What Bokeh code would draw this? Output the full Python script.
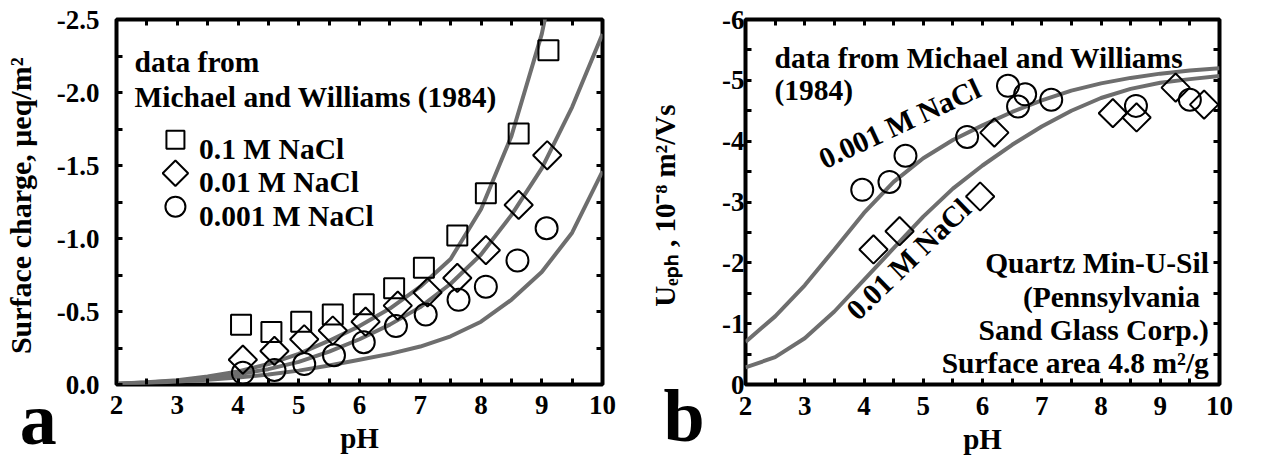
import math
from bokeh.plotting import figure
from bokeh.models import (Range1d, FixedTicker, Label, LinearAxis, PrintfTickFormatter)
from bokeh.layouts import row
from bokeh.embed import file_html
from bokeh.resources import INLINE

FONT = "Liberation Serif"
GRAY = "#6e6e6e"

# ---------------- Panel a : surface charge (Michael and Williams 1984) ----------------
ph_a_01 = [4.05, 4.55, 5.04, 5.56, 6.07, 6.57, 7.06, 7.61, 8.08, 8.62, 9.11]
q_a_01 = [-0.41, -0.36, -0.43, -0.48, -0.55, -0.66, -0.80, -1.02, -1.31, -1.72, -2.29]
ph_a_001 = [4.08, 4.60, 5.09, 5.56, 6.10, 6.63, 7.12, 7.61, 8.08, 8.62, 9.09]
q_a_001 = [-0.17, -0.23, -0.31, -0.37, -0.43, -0.54, -0.63, -0.73, -0.92, -1.23, -1.57]
ph_a_0001 = [4.08, 4.60, 5.09, 5.58, 6.07, 6.60, 7.09, 7.63, 8.08, 8.60, 9.08]
q_a_0001 = [-0.08, -0.10, -0.14, -0.20, -0.29, -0.40, -0.48, -0.58, -0.67, -0.85, -1.07]

# model curves
curve_ph_a = [2.0, 2.5, 3.0, 3.5, 4.0, 4.5, 5.0, 5.5, 6.0, 6.5, 7.0, 7.5, 8.0, 8.5, 9.0, 9.5]
curve_a_01 = [-0.005, -0.015, -0.03, -0.055, -0.09, -0.14, -0.21, -0.30, -0.40, -0.52,
              -0.67, -0.86, -1.20, -1.70, -2.40, -3.40]
curve_ph_a2 = [2.0, 2.5, 3.0, 3.5, 4.0, 4.5, 5.0, 5.5, 6.0, 6.5, 7.0, 7.5, 8.0, 8.5, 9.0, 9.5, 10.0]
curve_a_001 = [-0.005, -0.013, -0.025, -0.045, -0.07, -0.105, -0.155, -0.225, -0.31, -0.41,
               -0.53, -0.69, -0.89, -1.16, -1.48, -1.90, -2.40]
curve_a_0001 = [-0.004, -0.01, -0.02, -0.032, -0.048, -0.068, -0.095, -0.13, -0.17, -0.21,
                -0.26, -0.33, -0.43, -0.58, -0.77, -1.04, -1.46]

legend_labels = ["0.1 M NaCl", "0.01 M NaCl", "0.001 M NaCl"]

ticks_a_x = [2, 3, 4, 5, 6, 7, 8, 9, 10]
minor_a_x = [2.5, 3.5, 4.5, 5.5, 6.5, 7.5, 8.5, 9.5]
ticks_a_y = [0.0, -0.5, -1.0, -1.5, -2.0, -2.5]
minor_a_y = [-0.25, -0.75, -1.25, -1.75, -2.25]

# ---------------- Panel b : electrophoretic mobility ----------------
ph_b_0001 = [3.97, 4.43, 4.70, 5.74, 6.43, 6.60, 6.72, 7.16, 8.59, 9.50]
u_b_0001 = [-3.20, -3.33, -3.76, -4.07, -4.91, -4.57, -4.77, -4.68, -4.58, -4.68]
ph_b_001 = [4.16, 4.60, 5.96, 6.20, 8.20, 8.60, 9.26, 9.74]
u_b_001 = [-2.22, -2.52, -3.09, -4.14, -4.46, -4.39, -4.88, -4.60]

curve_ph_b = [2.0, 2.5, 3.0, 3.5, 4.0, 4.5, 5.0, 5.5, 6.0, 6.5, 7.0, 7.5, 8.0, 8.5, 9.0, 9.5, 10.0]
curve_b_0001 = [-0.70, -1.12, -1.63, -2.22, -2.82, -3.33, -3.72, -4.02, -4.26, -4.48,
                -4.67, -4.83, -4.95, -5.04, -5.11, -5.16, -5.20]
curve_b_001 = [-0.28, -0.45, -0.76, -1.20, -1.72, -2.24, -2.76, -3.22, -3.60, -3.94,
               -4.24, -4.50, -4.71, -4.86, -4.96, -5.02, -5.07]

ticks_b_x = [2, 3, 4, 5, 6, 7, 8, 9, 10]
minor_b_x = [2.5, 3.5, 4.5, 5.5, 6.5, 7.5, 8.5, 9.5]
ticks_b_y = [0, -1, -2, -3, -4, -5, -6]
minor_b_y = [-0.5, -1.5, -2.5, -3.5, -4.5, -5.5]


def style_axis(ax, labelled, fmt, standoff):
    ax.axis_line_color = None
    ax.major_tick_in = 6
    ax.major_tick_out = 0
    ax.minor_tick_in = 6
    ax.minor_tick_out = 0
    ax.major_tick_line_width = 3
    ax.minor_tick_line_width = 3
    ax.major_tick_line_color = "black"
    ax.minor_tick_line_color = "black"
    ax.formatter = PrintfTickFormatter(format=fmt)
    if labelled:
        ax.major_label_text_font = FONT
        ax.major_label_text_font_style = "bold"
        ax.major_label_text_font_size = "27px"
        ax.major_label_text_color = "black"
        ax.major_label_standoff = standoff
        ax.axis_label_text_font = FONT
        ax.axis_label_text_font_style = "bold"
        ax.axis_label_text_font_size = "29px"
        ax.axis_label_text_color = "black"
    else:
        ax.major_label_text_color = None
        ax.major_label_text_font_size = "1px"
        ax.major_label_standoff = 0


def make_fig(width, height, bl, br, bt, bb, yr, xt, xm, yt, ym, yfmt, xstand, ystand):
    p = figure(width=width, height=height, x_range=Range1d(2, 10), y_range=yr,
               output_backend="svg", toolbar_location=None,
               x_axis_location=None, y_axis_location=None,
               min_border_left=bl, min_border_right=br, min_border_top=bt, min_border_bottom=bb)
    p.grid.visible = False
    p.outline_line_color = "black"
    p.outline_line_width = 4
    p.background_fill_color = "white"
    p.border_fill_color = "white"
    for loc, labelled in (("below", True), ("above", False)):
        ax = LinearAxis(ticker=FixedTicker(ticks=xt, minor_ticks=xm))
        style_axis(ax, labelled, "%d", xstand)
        p.add_layout(ax, loc)
    for loc, labelled in (("left", True), ("right", False)):
        ax = LinearAxis(ticker=FixedTicker(ticks=yt, minor_ticks=ym))
        style_axis(ax, labelled, yfmt, ystand)
        p.add_layout(ax, loc)
    return p


def mk_label(x, y, s, size="29.5px", align="left", baseline="alphabetic", angle=0.0):
    return Label(x=x, y=y, text=s, text_font=FONT, text_font_style="bold",
                 text_font_size=size, text_color="black", text_align=align,
                 text_baseline=baseline, angle=angle)


def txt(p, *a, **kw):
    p.add_layout(mk_label(*a, **kw))


# ---------------- figure a ----------------
pa = make_fig(642, 460, 115, 40, 19, 74, Range1d(0, -2.5),
              ticks_a_x, minor_a_x, ticks_a_y, minor_a_y, "%.1f", 11, 17)
pa.below[0].axis_label = "pH"
pa.below[0].axis_label_standoff = 5
pa.left[0].axis_label = "Surface charge,  \u03bceq/m\u00b2"
pa.left[0].axis_label_text_font_size = "30px"
pa.left[0].axis_label_standoff = 17

pa.line(curve_ph_a, curve_a_01, line_color=GRAY, line_width=4)
for yy in (curve_a_001, curve_a_0001):
    pa.line(curve_ph_a2, yy, line_color=GRAY, line_width=4)

mk_sq = dict(marker="square", size=20, fill_color=None, line_color="black", line_width=2)
mk_di = dict(marker="square", angle=math.pi / 4, size=20, fill_color=None,
             line_color="black", line_width=2)
mk_ci = dict(marker="circle", size=22, fill_color=None, line_color="black", line_width=2)

pa.scatter(ph_a_01, q_a_01, **mk_sq)
pa.scatter(ph_a_001, q_a_001, **mk_di)
pa.scatter(ph_a_0001, q_a_0001, **mk_ci)

# legend block (key + label per row), laid out from an anchor and a row step
leg_key_x, leg_text_x, leg_top, leg_step = 2.97, 3.36, -1.676, 0.229
for i, (lab, mk) in enumerate(zip(legend_labels, (mk_sq, mk_di, mk_ci))):
    yk = leg_top + i * leg_step
    kw = dict(mk)
    kw["size"] = kw["size"] - 2
    pa.scatter([leg_key_x], [yk], **kw)
    txt(pa, leg_text_x, yk + 0.062, lab)

txt(pa, 2.296, -2.207, "data from")
txt(pa, 2.296, -1.969, "Michael and Williams (1984)")
# panel letter sits outside the frame: hosted by the right side panel so it is not clipped
pa.add_layout(mk_label(0.407, 0.235, "a", size="74px"), "right")

# ---------------- figure b ----------------
pb = make_fig(621, 460, 103, 44, 15, 76, Range1d(0, -6),
              ticks_b_x, minor_b_x, ticks_b_y, minor_b_y, "%d", 12, 1)
pb.below[0].axis_label = "pH"
pb.below[0].axis_label_standoff = 5
pb.left[0].axis_label = "U\u2091\u209a\u2095 , 10\u207b\u2078  m\u00b2/Vs"
pb.left[0].axis_label_standoff = 38

pb.line(curve_ph_b, curve_b_0001, line_color=GRAY, line_width=4)
pb.line(curve_ph_b, curve_b_001, line_color=GRAY, line_width=4)
pb.scatter(ph_b_0001, u_b_0001, **mk_ci)
pb.scatter(ph_b_001, u_b_001, **mk_di)

txt(pb, 2.49, -5.366, "data from Michael and Williams")
txt(pb, 2.49, -4.846, "(1984)")
txt(pb, 4.60, -4.29, "0.001 M NaCl", align="center", baseline="middle", angle=math.radians(25))
txt(pb, 4.75, -2.06, "0.01 M NaCl", align="center", baseline="middle", angle=math.radians(44))
txt(pb, 9.82, -2.0, "Quartz Min-U-Sil", align="right")
txt(pb, 9.67, -1.431, "(Pennsylvania", align="right")
txt(pb, 9.82, -0.894, "Sand Glass Corp.)", align="right")
txt(pb, 9.82, -0.358, "Surface area 4.8 m\u00b2/g", align="right")
pb.add_layout(mk_label(0.616, 0.52, "b", size="74px"), "right")

layout = row(pa, pb)
open("out.html", "w").write(file_html(layout, INLINE))
